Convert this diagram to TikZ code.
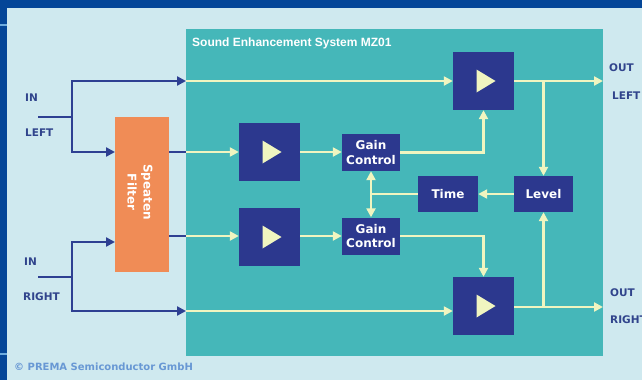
\documentclass[tikz,border=0pt]{standalone}
\usepackage{fontspec}
\setmainfont{DejaVu Sans}
\newfontfamily\titlefont{Liberation Sans}
\usetikzlibrary{arrows.meta}

\definecolor{frameblue}{RGB}{4,70,152}
\definecolor{bglight}{RGB}{207,233,239}
\definecolor{stripline}{RGB}{110,172,222}
\definecolor{systeal}{RGB}{69,183,185}
\definecolor{navy}{RGB}{44,56,142}
\definecolor{wireblue}{RGB}{46,64,146}
\definecolor{paleyellow}{RGB}{240,245,192}
\definecolor{filterorange}{RGB}{240,140,86}
\definecolor{labelblue}{RGB}{48,68,140}
\definecolor{copyblue}{RGB}{104,152,212}

\tikzset{
  blockbox/.style={fill=navy, text=white, inner sep=0pt, align=center,
    font=\bfseries\fontsize{12}{14.5}\selectfont},
  ampbox/.style={blockbox, minimum width=61pt, minimum height=58pt},
  ctrlbox/.style={blockbox, minimum width=58pt, minimum height=37pt},
  inwire/.style={line width=2.6pt, draw=wireblue},
  sigwire/.style={line width=2.6pt, draw=paleyellow},
  tip/.style={-{Triangle[length=9pt,width=9pt]}},
  twotip/.style={{Triangle[length=9pt,width=9pt]}-{Triangle[length=9pt,width=9pt]}},
  portlabel/.style={text=labelblue, inner sep=0pt, anchor=west,
    font=\bfseries\fontsize{10.5}{12}\selectfont},
}

\begin{document}
\begin{tikzpicture}[x=1pt,y=-1pt]
\useasboundingbox (0,0) rectangle (642,380);

% Slide frame and background.
\fill[frameblue] (0,0) rectangle (642,380);
\fill[bglight] (7,8) rectangle (642,380);
\fill[stripline] (0,23.5) rectangle (7,25.5);
\fill[stripline] (0,352.5) rectangle (7,354.5);

% System area.
\fill[systeal] (186,29) rectangle (603,356);
\node[anchor=west, text=white, inner sep=0pt, font=\titlefont\bfseries\fontsize{12}{14}\selectfont]
  (title) at (192,43) {Sound Enhancement System MZ01};

% Blocks.
\node[fill=filterorange, minimum width=54pt, minimum height=155pt, inner sep=0pt] (filter) at (142,194.5) {};
\node[text=white, rotate=-90, align=center, inner sep=0pt, font=\bfseries\fontsize{12}{16}\selectfont]
  (filtertext) at (140,192) {Speaten\\Filter};
\node[ampbox] (ampL) at (483.5,81) {};
\node[ampbox] (ampR) at (483.5,306) {};
\node[ampbox] (ampA) at (269.5,152) {};
\node[ampbox] (ampB) at (269.5,237) {};
\node[ctrlbox] (gainA) at (371,152.5) {Gain\\Control};
\node[ctrlbox] (gainB) at (371,236) {Gain\\Control};
\node[ctrlbox, minimum width=60pt, minimum height=36pt] (timeb) at (448,194) {Time};
\node[ctrlbox, minimum width=59pt, minimum height=36pt] (level) at (543.5,194) {Level};

% Amplifier symbols.
\foreach \amp in {ampL,ampR,ampA,ampB} {
  \fill[paleyellow] ([shift={(-7,-11.5)}]\amp.center) -- ([shift={(12,0)}]\amp.center)
    -- ([shift={(-7,11.5)}]\amp.center) -- cycle;
}

% Input wiring.
\coordinate (inLeft) at (38,117);
\coordinate (forkL) at (72,117);
\coordinate (edgeLtop) at (186,81);
\coordinate (filtInA) at (115,152);
\coordinate (inRight) at (38,277);
\coordinate (forkR) at (72,277);
\coordinate (edgeRbot) at (186,311);
\coordinate (filtInB) at (115,242);
\draw[inwire] (inLeft) -- (forkL);
\draw[inwire,tip] (forkL) |- (edgeLtop);
\draw[inwire,tip] (forkL) |- (filtInA);
\draw[inwire] (inRight) -- (forkR);
\draw[inwire,tip] (forkR) |- (filtInB);
\draw[inwire,tip] (forkR) |- (edgeRbot);

% Filter outputs.
\coordinate (filtOutA) at (186,152);
\coordinate (filtOutB) at (186,236);
\draw[inwire] (filter.east |- filtOutA) -- (filtOutA);
\draw[inwire] (filter.east |- filtOutB) -- (filtOutB);
\draw[sigwire,tip] (filtOutA) -- (ampA);
\draw[sigwire,tip] (filtOutB) -- (ampB.west |- filtOutB);

% Signal paths inside the system.
\draw[sigwire,tip] (edgeLtop) -- (ampL);
\draw[sigwire,tip] (edgeRbot) -- (ampR.west |- edgeRbot);
\draw[sigwire,tip] (ampA) -- (gainA.west |- ampA);
\draw[sigwire,tip] (ampB.east |- filtOutB) -- (gainB.west |- filtOutB);
\draw[sigwire,tip] (gainA) -| (ampL);
\draw[sigwire,tip] (gainB) -| (ampR);

% Outputs and level detection.
\coordinate (outL) at (603,81);
\coordinate (outR) at (603,307);
\coordinate (tapL) at (543.5,81);
\coordinate (tapR) at (543.5,307);
\coordinate (tctl) at (371,194);
\draw[sigwire,tip] (ampL) -- (outL);
\draw[sigwire,tip] (ampR.east |- outR) -- (outR);
\draw[sigwire,tip] (tapL) -- (level);
\draw[sigwire,tip] (tapR) -- (level);
\draw[sigwire,tip] (level) -- (timeb);
\draw[sigwire] (timeb.west) -- (tctl);
\draw[sigwire,twotip] (gainA) -- (gainB);

% Port labels.
\node[portlabel] (inL) at (25,98) {IN};
\node[portlabel] (leftL) at (25,133) {LEFT};
\node[portlabel] (inR) at (24,262) {IN};
\node[portlabel] (rightR) at (23,297) {RIGHT};
\node[portlabel] (outLL) at (609,68) {OUT};
\node[portlabel] (leftO) at (612,96) {LEFT};
\node[portlabel] (outRL) at (610,293) {OUT};
\node[portlabel] (rightO) at (610,320) {RIGHT};

% Credit line.
\node[anchor=west, text=copyblue, inner sep=0pt, font=\bfseries\fontsize{10}{12}\selectfont]
  (credit) at (14,367) {© PREMA Semiconductor GmbH};
\end{tikzpicture}
\end{document}
